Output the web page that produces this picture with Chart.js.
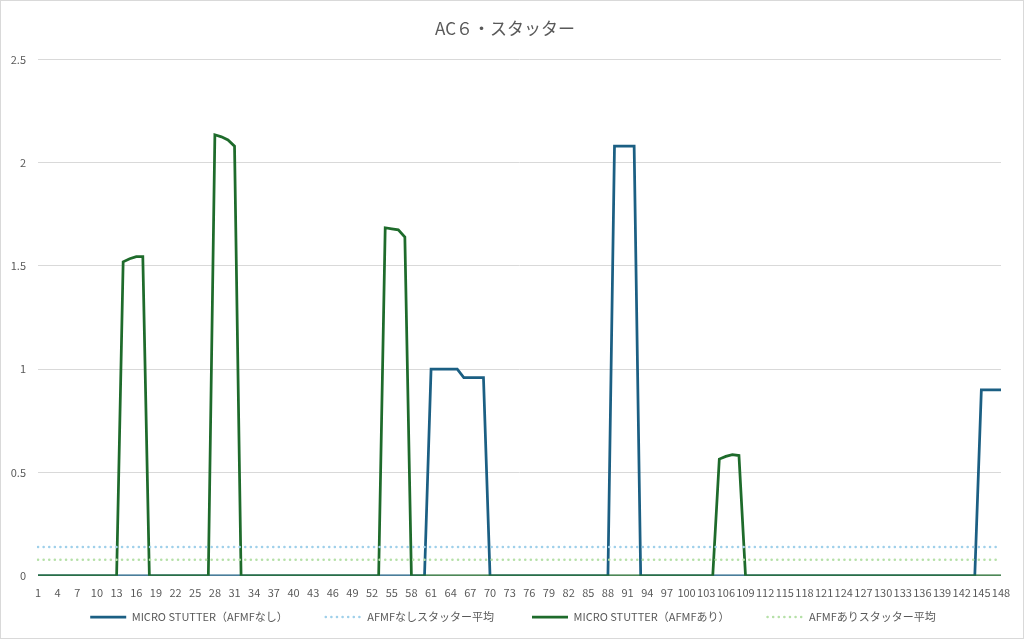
<!DOCTYPE html>
<html lang="ja">
<head>
  <meta charset="UTF-8">
  <title>AC６・スタッター</title>
  <script src="https://cdn.jsdelivr.net/npm/chart.js"></script>
  <style>
    html, body {
      margin: 0;
      padding: 0;
      background: #fff;
    }
    .frame {
      width: 1024px;
      height: 639px;
      box-sizing: border-box;
      border: 1px solid #d9d9d9;
      position: relative;
    }
    canvas {
      display: block;
    }
  </style>
</head>
<body>
  <div class="frame">
    <canvas id="stutterChart" width="1022" height="637"></canvas>
  </div>

  <script>
    // frame numbers 1..148
    const frames = [
      1, 2, 3, 4, 5, 6, 7, 8, 9, 10, 11, 12, 13, 14, 15, 16, 17, 18, 19, 20,
      21, 22, 23, 24, 25, 26, 27, 28, 29, 30, 31, 32, 33, 34, 35, 36, 37, 38, 39, 40,
      41, 42, 43, 44, 45, 46, 47, 48, 49, 50, 51, 52, 53, 54, 55, 56, 57, 58, 59, 60,
      61, 62, 63, 64, 65, 66, 67, 68, 69, 70, 71, 72, 73, 74, 75, 76, 77, 78, 79, 80,
      81, 82, 83, 84, 85, 86, 87, 88, 89, 90, 91, 92, 93, 94, 95, 96, 97, 98, 99, 100,
      101, 102, 103, 104, 105, 106, 107, 108, 109, 110, 111, 112, 113, 114, 115, 116, 117, 118, 119, 120,
      121, 122, 123, 124, 125, 126, 127, 128, 129, 130, 131, 132, 133, 134, 135, 136, 137, 138, 139, 140,
      141, 142, 143, 144, 145, 146, 147, 148
    ];

    // MICRO STUTTER (AFMFなし)
    const stutterNoAfmf = [
      0, 0, 0, 0, 0, 0, 0, 0, 0, 0, 0, 0, 0, 0, 0, 0, 0, 0, 0, 0,
      0, 0, 0, 0, 0, 0, 0, 0, 0, 0, 0, 0, 0, 0, 0, 0, 0, 0, 0, 0,
      0, 0, 0, 0, 0, 0, 0, 0, 0, 0, 0, 0, 0, 0, 0, 0, 0, 0, 0, 0,
      1.0, 1.0, 1.0, 1.0, 1.0, 0.96, 0.96, 0.96, 0.96, 0, 0, 0, 0, 0, 0, 0, 0, 0, 0, 0,
      0, 0, 0, 0, 0, 0, 0, 0, 2.08, 2.08, 2.08, 2.08, 0, 0, 0, 0, 0, 0, 0, 0,
      0, 0, 0, 0, 0, 0, 0, 0, 0, 0, 0, 0, 0, 0, 0, 0, 0, 0, 0, 0,
      0, 0, 0, 0, 0, 0, 0, 0, 0, 0, 0, 0, 0, 0, 0, 0, 0, 0, 0, 0,
      0, 0, 0, 0, 0.9, 0.9, 0.9, 0.9
    ];

    // MICRO STUTTER (AFMFあり)
    const stutterAfmf = [
      0, 0, 0, 0, 0, 0, 0, 0, 0, 0, 0, 0, 0, 1.52, 1.535, 1.545, 1.545, 0, 0, 0,
      0, 0, 0, 0, 0, 0, 0, 2.135, 2.125, 2.11, 2.08, 0, 0, 0, 0, 0, 0, 0, 0, 0,
      0, 0, 0, 0, 0, 0, 0, 0, 0, 0, 0, 0, 0, 1.685, 1.68, 1.675, 1.64, 0, 0, 0,
      0, 0, 0, 0, 0, 0, 0, 0, 0, 0, 0, 0, 0, 0, 0, 0, 0, 0, 0, 0,
      0, 0, 0, 0, 0, 0, 0, 0, 0, 0, 0, 0, 0, 0, 0, 0, 0, 0, 0, 0,
      0, 0, 0, 0, 0.565, 0.578, 0.586, 0.582, 0, 0, 0, 0, 0, 0, 0, 0, 0, 0, 0, 0,
      0, 0, 0, 0, 0, 0, 0, 0, 0, 0, 0, 0, 0, 0, 0, 0, 0, 0, 0, 0,
      0, 0, 0, 0, 0, 0, 0, 0
    ];

    // averages (constant lines)
    const avgNoAfmf = 0.14;
    const avgAfmf = 0.078;

    const yTicks = [0, 0.5, 1, 1.5, 2, 2.5];

    const textColor = '#595959';
    const jpFont = '"Noto Sans CJK JP", "Noto Sans", sans-serif';

    // legend: wide gaps between items but a short box, sitting under the axis labels
    const legendPlace = {
      id: 'legendPlace',
      beforeLayout(chart) {
        const lg = chart.legend;
        if (!lg || lg._patched) return;
        const fit = lg.fit;
        lg.fit = function () {
          fit.call(this);
          this.height = 29;
        };
        lg._patched = true;
      },
      afterLayout(chart) {
        const lg = chart.legend;
        const pad = lg.options.labels.padding;
        lg.top = 616 - pad - 5.5;
        lg.left += 8;
        lg.right += 8;
      }
    };

    new Chart(document.getElementById('stutterChart').getContext('2d'), {
      type: 'line',
      data: {
        labels: frames,
        datasets: [
          {
            label: 'MICRO STUTTER（AFMFなし）',
            data: stutterNoAfmf,
            borderColor: '#1b5f83',
            backgroundColor: '#1b5f83',
            borderWidth: 2.75,
            pointRadius: 0,
            tension: 0,
            order: 4
          },
          {
            label: 'AFMFなしスタッター平均',
            data: frames.map(() => avgNoAfmf),
            borderColor: '#9fd0ea',
            backgroundColor: '#9fd0ea',
            borderWidth: 2.5,
            borderDash: [0.1, 5.5],
            borderCapStyle: 'round',
            pointRadius: 0,
            order: 2
          },
          {
            label: 'MICRO STUTTER（AFMFあり）',
            data: stutterAfmf,
            borderColor: '#1e6b2b',
            backgroundColor: '#1e6b2b',
            borderWidth: 2.75,
            pointRadius: 0,
            tension: 0,
            order: 3
          },
          {
            label: 'AFMFありスタッター平均',
            data: frames.map(() => avgAfmf),
            borderColor: '#b6e0a8',
            backgroundColor: '#b6e0a8',
            borderWidth: 2.5,
            borderDash: [0.1, 5.5],
            borderCapStyle: 'round',
            pointRadius: 0,
            order: 1
          }
        ]
      },
      plugins: [legendPlace],
      options: {
        responsive: false,
        animation: false,
        layout: {
          padding: { left: 8, right: 22, top: 0, bottom: 0 }
        },
        plugins: {
          title: {
            display: true,
            text: 'AC６・スタッター',
            color: textColor,
            font: { family: jpFont, size: 17, weight: 'normal' },
            padding: { top: 17, bottom: 21 }
          },
          legend: {
            position: 'bottom',
            labels: {
              usePointStyle: true,
              pointStyleWidth: 36,
              boxHeight: 8,
              padding: 38,
              color: textColor,
              font: { family: jpFont, size: 11 },
              generateLabels: (chart) => chart.data.datasets.map((ds, i) => ({
                text: ds.label,
                fillStyle: ds.borderColor,
                strokeStyle: ds.borderColor,
                fontColor: textColor,
                lineWidth: ds.borderWidth,
                lineDash: ds.borderDash || [],
                lineCap: ds.borderDash ? 'round' : 'butt',
                pointStyle: 'line',
                hidden: false,
                datasetIndex: i
              }))
            }
          },
          tooltip: { enabled: false }
        },
        scales: {
          x: {
            offset: false,
            grid: { display: false, drawTicks: false },
            border: { display: false },
            ticks: {
              autoSkip: false,
              maxRotation: 0,
              minRotation: 0,
              padding: 10,
              color: textColor,
              font: { family: jpFont, size: 11 },
              callback: function (value, index) {
                return index % 3 === 0 ? this.getLabelForValue(value) : '';
              }
            }
          },
          y: {
            min: 0,
            max: 2.5,
            afterBuildTicks: (axis) => {
              axis.ticks = yTicks.map(v => ({ value: v }));
            },
            afterFit: (axis) => {
              axis.width = 29;
            },
            grid: { color: '#d9d9d9', drawTicks: false },
            border: { display: false },
            ticks: {
              padding: 12,
              color: textColor,
              font: { family: jpFont, size: 11 },
              callback: (v) => String(v)
            }
          }
        }
      }
    });
  </script>
</body>
</html>
